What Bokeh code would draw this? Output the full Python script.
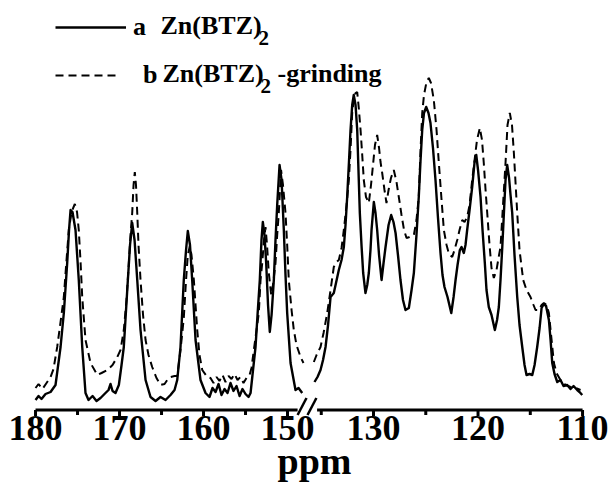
from bokeh.plotting import figure
from bokeh.models import Range1d, Label, Legend, LegendItem
from bokeh.embed import file_html
from bokeh.resources import INLINE
from bokeh.core.properties import value

# ---------------------------------------------------------------------------
# 13C CP/MAS NMR spectra (chemical shift in ppm, intensity in a.u.)
# The shift axis is broken: 180-148.8 ppm on the left, 135.4-110 ppm on the right.
# ---------------------------------------------------------------------------

# a  Zn(BTZ)2  -- low-field segment
a_lo_ppm = [180.0, 179.64, 179.29, 178.81, 178.21, 177.62, 177.02, 176.63, 176.23, 176.01,
            175.83, 175.60, 175.24, 174.85, 174.44, 174.05, 173.69, 173.21, 172.74, 172.26,
            171.79, 171.31, 171.07, 170.83, 170.48, 170.08, 169.76, 169.49, 169.08, 168.75,
            168.49, 168.21, 167.89, 167.50, 166.90, 166.31, 165.71, 165.12, 164.52, 163.93,
            163.45, 163.13, 162.74, 162.35, 162.08, 161.87, 161.61, 161.35, 160.95, 160.36,
            159.76, 159.29, 158.93, 158.57, 158.21, 157.86, 157.50, 157.14, 156.79, 156.43,
            156.07, 155.71, 155.36, 155.00, 154.64, 154.40, 154.17, 153.81, 153.57, 153.30,
            153.10, 152.94, 152.74, 152.54, 152.32, 152.11, 151.90, 151.63, 151.43, 151.23,
            150.95, 150.71, 150.44, 150.24, 150.04, 149.64, 149.05, 148.69, 148.25]
a_lo_int = [10, 14, 11, 16, 18, 25, 63, 97, 147, 180,
            200, 198, 180, 130, 63, 17, 10, 14, 9, 12,
            16, 20, 26, 19, 17, 25, 45, 63, 120, 165,
            187, 170, 130, 80, 30, 13, 9, 13, 10, 15,
            20, 30, 63, 130, 160, 179, 165, 130, 70, 30,
            17, 13, 22, 18, 26, 15, 21, 17, 27, 19,
            24, 14, 21, 16, 13, 17, 35, 63, 95, 130,
            170, 188, 175, 147, 105, 78, 95, 130, 170, 205,
            245, 230, 180, 135, 97, 47, 20, 22, 17]

# a  Zn(BTZ)2  -- high-field segment
a_hi_ppm = [135.65, 135.36, 135.07, 134.83, 134.59, 134.35, 134.11, 133.80, 133.59, 133.32,
            133.06, 132.84, 132.68, 132.52, 132.34, 132.20, 132.04, 131.89, 131.72, 131.56,
            131.44, 131.31, 131.15, 130.99, 130.77, 130.60, 130.45, 130.29, 130.19, 129.97,
            129.81, 129.65, 129.47, 129.23, 129.04, 128.85, 128.56, 128.31, 128.09, 127.89,
            127.66, 127.42, 127.18, 126.94, 126.62, 126.36, 126.14, 125.89, 125.67, 125.50,
            125.34, 125.17, 124.96, 124.74, 124.55, 124.31, 124.07, 123.83, 123.59, 123.40,
            123.21, 122.92, 122.56, 122.34, 122.15, 121.96, 121.74, 121.58, 121.36, 121.20,
            121.04, 120.81, 120.56, 120.33, 120.17, 120.00, 119.76, 119.57, 119.35, 119.19,
            118.97, 118.71, 118.39, 118.18, 118.01, 117.85, 117.68, 117.51, 117.37, 117.21,
            117.03, 116.89, 116.73, 116.51, 116.25, 116.03, 115.77, 115.55, 115.36, 115.07,
            114.81, 114.59, 114.34, 114.11, 113.92, 113.70, 113.49, 113.22, 113.06, 112.90,
            112.68, 112.42, 112.11, 111.82, 111.47, 111.15, 110.86, 110.51, 110.29, 110.03]
a_hi_int = [28, 33, 40, 50, 63, 85, 113, 117, 127, 140,
            150, 163, 185, 213, 250, 280, 305, 315, 305, 280,
            240, 197, 165, 137, 117, 125, 137, 160, 180, 208,
            197, 180, 155, 130, 147, 163, 185, 195, 188, 177,
            155, 130, 110, 100, 102, 120, 137, 175, 213, 250,
            280, 297, 303, 297, 287, 262, 230, 192, 157, 135,
            123, 113, 97, 113, 130, 145, 160, 163, 157, 165,
            180, 200, 223, 248, 255, 240, 213, 180, 147, 120,
            103, 95, 80, 90, 103, 130, 163, 200, 230, 245,
            232, 215, 197, 155, 113, 85, 63, 45, 35, 36,
            35, 45, 63, 82, 102, 106, 104, 90, 70, 47,
            36, 28, 30, 24, 25, 21, 24, 20, 18, 15]

# b  Zn(BTZ)2 after grinding -- low-field segment
b_lo_ppm = [180.0, 179.64, 179.17, 178.69, 178.21, 177.86, 177.42, 177.02, 176.63, 176.31,
            176.04, 175.71, 175.32, 175.06, 174.85, 174.64, 174.44, 174.05, 173.45, 172.65,
            172.14, 171.46, 170.83, 170.27, 169.88, 169.49, 169.17, 168.89, 168.69, 168.49,
            168.33, 168.18, 168.04, 167.89, 167.74, 167.50, 167.20, 166.90, 166.55, 166.11,
            165.60, 165.12, 164.64, 164.32, 163.93, 163.45, 163.13, 162.74, 162.35, 162.08,
            161.87, 161.63, 161.43, 161.15, 160.75, 160.48, 160.15, 159.56, 159.17, 158.81,
            158.45, 158.10, 157.74, 157.38, 157.02, 156.67, 156.31, 155.95, 155.60, 155.24,
            154.88, 154.52, 154.29, 154.01, 153.69, 153.42, 153.21, 153.01, 152.80, 152.62,
            152.44, 152.23, 151.94, 151.73, 151.43, 151.23, 151.04, 150.77, 150.54, 150.24,
            150.04, 149.85, 149.52, 149.25, 148.93, 148.45, 148.10]
b_lo_int = [22, 26, 21, 27, 33, 41, 63, 88, 113, 150,
            180, 198, 206, 198, 180, 148, 113, 70, 47, 35,
            37, 40, 45, 53, 60, 80, 110, 147, 175, 197,
            225, 238, 225, 197, 165, 130, 95, 70, 55, 43,
            32, 25, 26, 30, 33, 34, 34, 60, 92, 130,
            155, 164, 155, 130, 80, 55, 40, 33, 32, 27,
            33, 29, 35, 28, 34, 31, 36, 30, 33, 27,
            32, 35, 42, 60, 80, 97, 130, 147, 170, 183,
            165, 137, 115, 125, 147, 175, 197, 240, 225, 197,
            165, 130, 100, 80, 65, 53, 47]

# b  Zn(BTZ)2 after grinding -- high-field segment
b_hi_ppm = [135.71, 135.45, 135.07, 134.78, 134.43, 134.11, 133.80, 133.54, 133.32, 133.06,
            132.84, 132.58, 132.36, 132.20, 132.04, 131.87, 131.72, 131.56, 131.41, 131.24,
            131.08, 130.93, 130.72, 130.45, 130.24, 130.03, 129.86, 129.65, 129.47, 129.33,
            129.17, 128.95, 128.76, 128.56, 128.33, 128.06, 127.80, 127.58, 127.32, 127.08,
            126.84, 126.56, 126.14, 125.89, 125.67, 125.50, 125.34, 125.17, 124.93, 124.71,
            124.50, 124.23, 123.97, 123.75, 123.49, 123.27, 123.01, 122.78, 122.47, 122.25,
            121.99, 121.77, 121.51, 121.29, 121.04, 120.81, 120.56, 120.33, 120.10, 119.83,
            119.62, 119.45, 119.28, 119.12, 118.90, 118.71, 118.49, 118.23, 118.04, 117.85,
            117.61, 117.37, 117.18, 116.96, 116.75, 116.57, 116.41, 116.25, 116.03, 115.68,
            115.36, 114.98, 114.69, 114.50, 114.21, 113.92, 113.70, 113.44, 113.22, 113.01,
            112.74, 112.49, 112.11, 111.63, 111.15, 110.67, 110.19]
b_hi_int = [48, 55, 63, 77, 97, 120, 143, 148, 150, 162,
            180, 205, 230, 260, 297, 312, 317, 318, 302, 280,
            255, 230, 213, 207, 225, 247, 265, 275, 262, 248,
            237, 220, 207, 220, 232, 240, 228, 213, 195, 180,
            172, 173, 175, 190, 213, 260, 297, 315, 328, 332,
            327, 310, 280, 247, 210, 180, 165, 156, 153, 160,
            170, 180, 190, 188, 193, 205, 230, 250, 270, 282,
            270, 247, 220, 197, 165, 142, 132, 140, 152, 163,
            205, 247, 285, 297, 285, 257, 227, 197, 160, 130,
            120, 113, 105, 100, 100, 105, 107, 105, 97, 75,
            47, 37, 30, 25, 23, 22, 20]

# Axis segments, ticks and labels
lo_axis = (180.0, 148.8)
hi_axis = (135.4, 110.0)
lo_major = [180, 170, 160, 150]
lo_minor = [175, 165, 155]
hi_major = [130, 120, 110]
hi_minor = [135, 125, 115]
lo_labels = ["180", "170", "160", "150"]
hi_labels = ["130", "120", "110"]

FONT = "Liberation Serif"
INK = "#000000"

p = figure(width=611, height=483, output_backend="svg", toolbar_location=None,
           x_axis_type=None, y_axis_type=None, min_border=0,
           outline_line_color=None, background_fill_color="white",
           border_fill_color="white")
# The whole canvas is the plot frame; two linear shift scales share it.
p.x_range = Range1d(184.17, 111.43)                     # low-field scale
p.extra_x_ranges = {"hi": Range1d(165.69, 107.23)}      # high-field scale
p.y_range = Range1d(-73.5, 409.5)

# Spectra
a_lo = p.line(a_lo_ppm, a_lo_int, line_color=INK, line_width=2.4, line_join="round")
p.line(a_hi_ppm, a_hi_int, x_range_name="hi", line_color=INK, line_width=2.4, line_join="round")
b_lo = p.line(b_lo_ppm, b_lo_int, line_color=INK, line_width=2.0, line_dash="8 5")
p.line(b_hi_ppm, b_hi_int, x_range_name="hi", line_color=INK, line_width=2.0, line_dash="8 5")

# Broken shift axis drawn in each segment's own scale
p.segment(x0=[lo_axis[0]], y0=[0], x1=[lo_axis[1]], y1=[0], line_color=INK, line_width=3)
p.segment(x0=[hi_axis[0]], y0=[0], x1=[hi_axis[1]], y1=[0], x_range_name="hi",
          line_color=INK, line_width=3)
p.segment(x0=lo_major, y0=[0] * 4, x1=lo_major, y1=[-6] * 4, line_color=INK, line_width=3)
p.segment(x0=lo_minor, y0=[0] * 3, x1=lo_minor, y1=[-5] * 3, line_color=INK, line_width=3)
p.segment(x0=hi_major, y0=[0] * 3, x1=hi_major, y1=[-6] * 3, x_range_name="hi",
          line_color=INK, line_width=3)
p.segment(x0=hi_minor, y0=[0] * 3, x1=hi_minor, y1=[-5] * 3, x_range_name="hi",
          line_color=INK, line_width=3)

# "//" break marks just past the end of the low-field segment
brk = lo_axis[1]
p.segment(x0=[brk, brk - 1.18], y0=[-5, -5], x1=[brk - 1.06, brk - 2.24], y1=[12, 12],
          line_color=INK, line_width=2.5)

lab_style = dict(text_font=value(FONT), text_font_style="bold", text_font_size="36px",
                 text_align="center", text_baseline="top", text_color=INK)
p.text(x=lo_major, y=[-6] * 4, text=lo_labels, **lab_style)
p.text(x=hi_major, y=[-6] * 3, text=hi_labels, x_range_name="hi", **lab_style)

p.add_layout(Label(x=314, y=2, x_units="screen", y_units="screen", text="ppm",
                   text_font=FONT, text_font_style="bold", text_font_size="38px",
                   text_align="center", text_baseline="bottom", text_color=INK))

# Legend: one row per spectrum
def legend_row(renderer, label, top_y, glyph_w, standoff):
    leg = Legend(items=[LegendItem(label=label, renderers=[renderer])],
                 location=(55, 483 - top_y - 30), glyph_width=glyph_w, glyph_height=30,
                 label_height=30, label_standoff=standoff, padding=0, margin=0, spacing=0,
                 border_line_color=None, background_fill_alpha=0,
                 label_text_font=FONT, label_text_font_style="bold",
                 label_text_font_size="26px", label_text_baseline="middle",
                 label_text_color=INK)
    p.add_layout(leg)

legend_row(a_lo, "a", 12, 71, 7)
legend_row(b_lo, "b", 60, 62, 26)

txt = dict(x_units="screen", y_units="screen", text_font=FONT, text_font_style="bold",
           text_baseline="middle", text_color=INK)
p.add_layout(Label(x=160, y=458, text="Zn(BTZ)", text_font_size="26px", **txt))
p.add_layout(Label(x=258, y=446, text="2", text_font_size="21px", **txt))
p.add_layout(Label(x=162, y=410, text="Zn(BTZ)", text_font_size="26px", **txt))
p.add_layout(Label(x=260, y=398, text="2", text_font_size="21px", **txt))
p.add_layout(Label(x=277, y=410, text="-grinding", text_font_size="26px", **txt))

open("out.html", "w").write(file_html(p, INLINE))
